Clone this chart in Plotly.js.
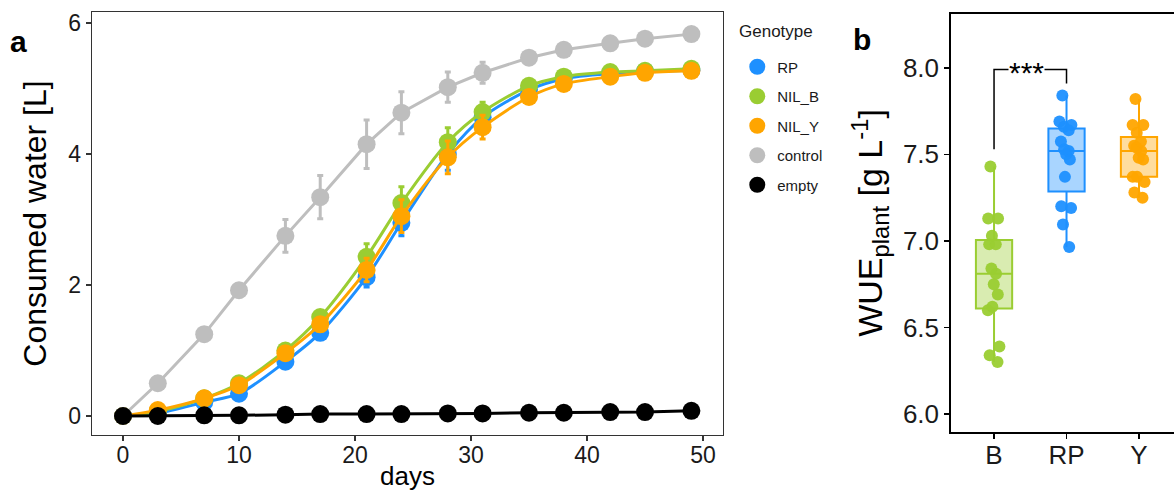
<!DOCTYPE html>
<html>
<head>
<meta charset="utf-8">
<script src="https://cdn.plot.ly/plotly-3.0.1.min.js"></script>
<style>html,body{margin:0;padding:0;background:#fff;}#chart{width:1174px;height:495px;}</style>
</head>
<body>
<div id="chart"></div>
<script>
// ---- Panel a: consumed water over time ----
const days = [0, 3, 7, 10, 14, 17, 21, 24, 28, 31, 35, 38, 42, 45, 49];
const rpWater    = [0, 0.04, 0.21, 0.34, 0.83, 1.27, 2.12, 2.95, 4.00, 4.56, 4.98, 5.15, 5.23, 5.26, 5.28];
const rpErr      = [0, 0.02, 0.03, 0.04, 0.05, 0.08, 0.15, 0.2, 0.25, 0.18, 0.06, 0.05, 0.04, 0.04, 0.04];
const nilBWater  = [0, 0.07, 0.27, 0.50, 1.00, 1.51, 2.43, 3.25, 4.18, 4.64, 5.04, 5.18, 5.25, 5.27, 5.30];
const nilBErr    = [0, 0.02, 0.03, 0.04, 0.05, 0.1, 0.2, 0.25, 0.22, 0.15, 0.06, 0.05, 0.04, 0.04, 0.04];
const nilYWater  = [0, 0.09, 0.27, 0.47, 0.96, 1.40, 2.23, 3.05, 3.95, 4.41, 4.87, 5.07, 5.18, 5.24, 5.27];
const nilYErr    = [0, 0.02, 0.03, 0.04, 0.05, 0.1, 0.18, 0.25, 0.25, 0.18, 0.06, 0.05, 0.04, 0.04, 0.04];
const ctrlWater  = [0, 0.50, 1.25, 1.92, 2.75, 3.34, 4.15, 4.63, 5.02, 5.24, 5.47, 5.59, 5.69, 5.76, 5.83];
const ctrlErr    = [0, 0.03, 0.05, 0.1, 0.25, 0.33, 0.37, 0.32, 0.23, 0.16, 0.04, 0.04, 0.03, 0.03, 0.03];
const emptyWater = [0, 0.0, 0.01, 0.01, 0.02, 0.03, 0.03, 0.03, 0.04, 0.04, 0.05, 0.05, 0.06, 0.06, 0.08];
const genotypes  = ["RP", "NIL_B", "NIL_Y", "control", "empty"];

// ---- Panel b: WUE per plant ----
const wueCategories = ["B", "RP", "Y"];
const wueB  = [7.43, 7.13, 7.13, 7.03, 6.98, 6.98, 6.84, 6.81, 6.75, 6.69, 6.62, 6.60, 6.39, 6.34, 6.30];
const wueRP = [7.84, 7.69, 7.67, 7.66, 7.64, 7.575, 7.53, 7.52, 7.50, 7.47, 7.37, 7.20, 7.19, 7.095, 6.965];
const wueY  = [7.82, 7.67, 7.67, 7.625, 7.575, 7.55, 7.54, 7.52, 7.48, 7.47, 7.37, 7.37, 7.34, 7.28, 7.25];
const sigLabel = "***";

const colors = {RP: "#1E90FF", NIL_B: "#9ACD32", NIL_Y: "#FFA500", control: "#BEBEBE", empty: "#000000"};
const FONT = "Liberation Sans, Arial, sans-serif";

const seriesA = [
  {name: "RP", y: rpWater, err: rpErr, shape: "spline"},
  {name: "NIL_B", y: nilBWater, err: nilBErr, shape: "spline"},
  {name: "NIL_Y", y: nilYWater, err: nilYErr, shape: "spline"},
  {name: "control", y: ctrlWater, err: ctrlErr, shape: "linear"},
  {name: "empty", y: emptyWater, err: null, shape: "linear"}
];

const traces = [];
seriesA.forEach(s => {
  const c = colors[s.name];
  const t = {
    type: "scatter", mode: "lines+markers", x: days, y: s.y,
    xaxis: "x", yaxis: "y", showlegend: false, hoverinfo: "x+y",
    line: {color: c, width: 3, shape: s.shape, smoothing: 0.8},
    marker: {color: c, size: 18}
  };
  if (s.err) t.error_y = {type: "data", array: s.err, visible: true, color: c, thickness: 3, width: 3};
  traces.push(t);
});
// legend-only marker entries
genotypes.forEach(g => {
  traces.push({
    type: "scatter", mode: "markers", x: [null], y: [null], name: g,
    xaxis: "x", yaxis: "y", legendgroup: g, showlegend: true,
    marker: {color: colors[g], size: 16}
  });
});

const boxData = [
  {cat: "B", vals: wueB, color: colors.NIL_B, fill: "rgba(154,205,50,0.38)"},
  {cat: "RP", vals: wueRP, color: colors.RP, fill: "rgba(30,144,255,0.38)"},
  {cat: "Y", vals: wueY, color: colors.NIL_Y, fill: "rgba(255,165,0,0.38)"}
];
boxData.forEach(b => {
  traces.push({
    type: "box", x: b.vals.map(() => b.cat), y: b.vals, xaxis: "x2", yaxis: "y2",
    showlegend: false, boxpoints: "all", jitter: 0.45, pointpos: 0,
    quartilemethod: "inclusive", width: 0.5, whiskerwidth: 0,
    fillcolor: b.fill, line: {color: b.color, width: 2},
    marker: {color: b.color, size: 12, opacity: 0.95}
  });
});

const tickFont = {family: FONT, size: 23, color: "#1a1a1a"};
const layout = {
  width: 1174, height: 495,
  margin: {l: 0, r: 0, t: 0, b: 0},
  paper_bgcolor: "#fff", plot_bgcolor: "#fff",
  font: {family: FONT},
  showlegend: true,
  legend: {
    x: 0.628, y: 0.898, xanchor: "left", yanchor: "top",
    font: {family: FONT, size: 15, color: "#1a1a1a"},
    tracegroupgap: 7, bgcolor: "rgba(0,0,0,0)"
  },
  xaxis: {
    domain: [0.0784, 0.6158], range: [-2.67, 51.72],
    tickvals: [0, 10, 20, 30, 40, 50], ticks: "outside", ticklen: 5, tickwidth: 1.2, tickcolor: "#333",
    ticklabelstandoff: -6,
    showgrid: false, zeroline: false, showline: true, mirror: true, linecolor: "#333", linewidth: 1.3,
    tickfont: tickFont,
    title: {text: "days", font: {family: FONT, size: 26, color: "#000"}, standoff: 0}
  },
  yaxis: {
    domain: [0.1212, 0.9758], range: [-0.29, 6.168],
    tickvals: [0, 2, 4, 6], ticks: "outside", ticklen: 5, tickwidth: 1.2, tickcolor: "#333",
    showgrid: false, zeroline: false, showline: true, mirror: true, linecolor: "#333", linewidth: 1.3,
    tickfont: tickFont,
    title: {text: "Consumed water [L]", font: {family: FONT, size: 32, color: "#000"}, standoff: 12}
  },
  xaxis2: {
    domain: [0.8101, 1.0], range: [-0.593, 2.483], type: "category",
    categoryorder: "array", categoryarray: wueCategories,
    ticks: "outside", ticklen: 5, tickwidth: 1.5, tickcolor: "#000",
    ticklabelstandoff: -6,
    showgrid: false, zeroline: false, showline: true, mirror: true, linecolor: "#000", linewidth: 1.8,
    tickfont: {family: FONT, size: 26, color: "#1a1a1a"}, anchor: "y2"
  },
  yaxis2: {
    domain: [0.1273, 0.9717], range: [5.896, 8.311], anchor: "x2",
    tickvals: [6.0, 6.5, 7.0, 7.5, 8.0], ticktext: ["6.0", "6.5", "7.0", "7.5", "8.0"],
    ticks: "outside", ticklen: 5, tickwidth: 1.5, tickcolor: "#000",
    showgrid: false, zeroline: false, showline: true, linecolor: "#000", linewidth: 1.8,
    tickfont: {family: FONT, size: 26, color: "#1a1a1a"},
    title: {text: "WUE<sub>plant</sub> [g L<sup>-1</sup>]", font: {family: FONT, size: 34, color: "#000"}, standoff: 10}
  },
  shapes: [
    {type: "path", xref: "x2", yref: "y2", path: "M 0 7.53 L 0 7.99 L 1 7.99 L 1 7.91",
     line: {color: "#000", width: 1.5}}
  ],
  annotations: [
    {text: "<b>a</b>", xref: "paper", yref: "paper", x: 18 / 1174, y: 1 - 42 / 495,
     xanchor: "center", yanchor: "middle", showarrow: false, font: {family: FONT, size: 30, color: "#000"}},
    {text: "<b>b</b>", xref: "paper", yref: "paper", x: 862 / 1174, y: 1 - 40 / 495,
     xanchor: "center", yanchor: "middle", showarrow: false, font: {family: FONT, size: 30, color: "#000"}},
    {text: "Genotype", xref: "paper", yref: "paper", x: 737 / 1174, y: 1 - 32 / 495,
     xanchor: "left", yanchor: "middle", showarrow: false, font: {family: FONT, size: 17, color: "#1a1a1a"}},
    {text: sigLabel, xref: "x2", yref: "y2", x: 0.45, y: 7.975, xanchor: "center", yanchor: "middle",
     showarrow: false, bgcolor: "#fff", borderpad: 0, font: {family: FONT, size: 30, color: "#000"}}
  ]
};

Plotly.newPlot("chart", traces, layout, {displayModeBar: false, staticPlot: true});
</script>
</body>
</html>
